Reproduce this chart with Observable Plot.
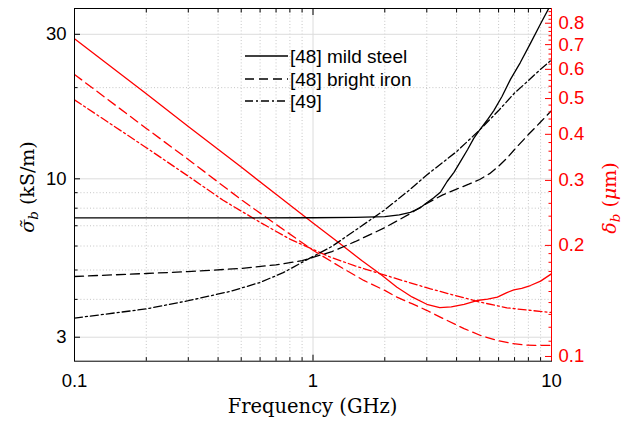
<!DOCTYPE html>
<html><head><meta charset="utf-8">
<script src="https://cdn.jsdelivr.net/npm/d3@7"></script>
<script src="https://cdn.jsdelivr.net/npm/@observablehq/plot@0.6"></script>
<style>body{margin:0;background:#fff}</style>
</head><body><div id="chart"></div>
<script>
// ---- data ----
const freqMild   = [0.1, 0.3, 1, 1.5, 2.0, 2.3, 2.56, 2.8, 3.01, 3.2, 3.43, 3.65, 3.9, 4.15, 4.45, 4.72, 5.0, 5.4, 5.73, 6.2, 6.73, 7.4, 8.16, 9.0, 10];
const sigmaMild  = [7.43, 7.43, 7.44, 7.46, 7.5, 7.6, 7.75, 8.0, 8.35, 8.65, 9.05, 9.8, 10.5, 11.4, 12.5, 13.6, 14.5, 15.7, 16.8, 18.7, 21.3, 24.2, 28, 32.5, 38];
const freqIron   = [0.1, 0.2, 0.3, 0.5, 0.7, 0.9, 1.2, 1.5, 2.0, 2.5, 3.0, 3.5, 4.0, 4.5, 5.0, 5.5, 6.0, 6.5, 7.0, 8.0, 9.0, 10];
const sigmaIron  = [4.76, 4.87, 4.94, 5.06, 5.2, 5.37, 5.75, 6.2, 6.9, 7.6, 8.3, 8.85, 9.25, 9.6, 9.95, 10.4, 11.0, 11.7, 12.5, 14.0, 15.4, 16.8];
const freq49     = [0.1, 0.2, 0.3, 0.45, 0.6, 0.75, 0.9, 1.2, 1.5, 2, 2.5, 3, 4, 5, 6, 7, 8, 9, 10];
const sigma49    = [3.47, 3.72, 3.96, 4.25, 4.55, 4.9, 5.3, 5.98, 6.75, 7.9, 9.1, 10.3, 12.3, 14.5, 16.8, 19.2, 21.1, 23.0, 24.7];

const freqMildD  = [0.1, 0.2, 0.3, 0.5, 0.7, 1, 1.3, 1.6, 1.92, 2.25, 2.6, 3.0, 3.4, 3.8, 4.3, 4.87, 5.4, 5.93, 6.5, 6.95, 7.5, 8.16, 9, 10];
const deltaMild  = [0.726, 0.515, 0.42, 0.326, 0.275, 0.23, 0.202, 0.182, 0.167, 0.154, 0.145, 0.1385, 0.1357, 0.1362, 0.1385, 0.1418, 0.143, 0.1448, 0.149, 0.1516, 0.153, 0.1557, 0.160, 0.1675];
const freqIronD  = [0.1, 0.2, 0.3, 0.5, 0.7, 1, 1.3, 1.633, 2, 2.25, 2.6, 3.01, 3.65, 4.3, 5.04, 5.93, 6.8, 7.63, 8.5, 10];
const deltaIron  = [0.581, 0.415, 0.342, 0.266, 0.228, 0.194, 0.175, 0.1607, 0.151, 0.1448, 0.139, 0.1332, 0.1252, 0.119, 0.114, 0.1105, 0.1085, 0.1075, 0.1072, 0.1072];
const freq49D    = [0.1, 0.2, 0.3, 0.42, 0.6, 0.8, 1.0, 1.18, 1.5, 1.92, 2.5, 3.11, 4, 5.04, 6.5, 8, 10];
const delta49    = [0.496, 0.368, 0.308, 0.265, 0.231, 0.208, 0.195, 0.186, 0.176, 0.1675, 0.159, 0.1525, 0.146, 0.1403, 0.1355, 0.1335, 0.1316];

const seriesNames = ["[48] mild steel", "[48] bright iron", "[49]"];
const dashes = [null, "9,5", "8,3,2,3"];

// ticks
const xLabels = [0.1, 1, 10];
const xMajor = [1];
const xMinor = [0.2,0.3,0.4,0.5,0.6,0.7,0.8,0.9,2,3,4,5,6,7,8,9];
const yMajor = [3, 10, 30];
const yMinor = [4,5,6,7,8,9,20];
const dMajor = [0.1,0.2,0.3,0.4,0.5,0.6,0.7,0.8];
const dMinor = [0.11,0.12,0.13,0.14,0.15,0.16,0.17,0.18,0.19,0.22,0.24,0.26,0.28,0.32,0.34,0.36,0.38,0.42,0.44,0.46,0.48,0.52,0.54,0.56,0.58,0.62,0.64,0.66,0.68,0.72,0.74,0.76,0.78,0.82,0.84,0.86];

// ---- scales ----
const yDom = [2.5, 36.5];
const dDom = [0.0971, 0.877];
const kk = Math.log10(yDom[1]/yDom[0]) / Math.log10(dDom[1]/dDom[0]);
const toL = d => yDom[0] * Math.pow(10, Math.log10(d/dDom[0]) * kk);
const fromL = y => dDom[0] * Math.pow(10, Math.log10(y/yDom[0]) / kk);

const mk = (fs, vs, conv) => fs.map((f, i) => ({f, v: conv ? toL(vs[i]) : vs[i]}));
const black = [mk(freqMild, sigmaMild), mk(freqIron, sigmaIron), mk(freq49, sigma49)];
const red = [mk(freqMildD, deltaMild, true), mk(freqIronD, deltaIron, true), mk(freq49D, delta49, true)];

const LW = 1.3;
const sans = "'Liberation Sans', Arial, Helvetica, sans-serif";
const serif = "'DejaVu Serif', serif";
const minorGrid = {stroke: "#b8b8b8", strokeOpacity: 1, strokeDasharray: "1,2.2", strokeWidth: 0.8};
const majorGrid = {stroke: "#dcdcdc", strokeOpacity: 1, strokeWidth: 1};

const marks = [
  Plot.gridX(xMinor, minorGrid),
  Plot.gridY(yMinor, minorGrid),
  Plot.gridX(xMajor, majorGrid),
  Plot.gridY(yMajor, majorGrid),
];
red.forEach((d, i) => marks.push(Plot.line(d, {x: "f", y: "v", stroke: "#ff0000", strokeWidth: LW, strokeDasharray: dashes[i], clip: true})));
black.forEach((d, i) => marks.push(Plot.line(d, {x: "f", y: "v", stroke: "#000", strokeWidth: LW, strokeDasharray: dashes[i], clip: true})));
marks.push(
  Plot.frame({stroke: "#000", strokeWidth: 1}),
  Plot.ruleX([10], {stroke: "#ff0000", strokeWidth: 1}),
  // tick labels
  Plot.axisX(xLabels, {anchor: "bottom", tickSize: 0, tickPadding: 13, tickFormat: d => String(d), fontSize: 18.5, fontFamily: sans, label: null}),
  Plot.axisY(yMajor, {anchor: "left", tickSize: 0, tickPadding: 8, tickFormat: d => String(d), fontSize: 18.5, fontFamily: sans, label: null}),
  Plot.axisY(dMajor.map(toL), {anchor: "right", tickSize: 0, tickPadding: 7, tickFormat: d => d3.format(".1f")(fromL(d)), fontSize: 18.5, fontFamily: sans, color: "#ff0000", label: null}),
  // inward tick marks
  Plot.axisX(xMajor, {anchor: "bottom", tickSize: -6, fill: "none", label: null}),
  Plot.axisX(xMinor, {anchor: "bottom", tickSize: -3.5, fill: "none", label: null}),
  Plot.axisX(xMajor, {anchor: "top", tickSize: -6, fill: "none", label: null}),
  Plot.axisX(xMinor, {anchor: "top", tickSize: -3.5, fill: "none", label: null}),
  Plot.axisY(yMajor, {anchor: "left", tickSize: -6, fill: "none", label: null}),
  Plot.axisY(yMinor, {anchor: "left", tickSize: -3.5, fill: "none", label: null}),
  Plot.axisY(dMajor.map(toL), {anchor: "right", tickSize: -7, fill: "none", stroke: "#ff0000", label: null}),
  Plot.axisY(dMinor.map(toL), {anchor: "right", tickSize: -3.5, fill: "none", stroke: "#ff0000", label: null})
);

const svg = Plot.plot({
  width: 635, height: 423,
  marginLeft: 74, marginRight: 84, marginTop: 8, marginBottom: 62.3,
  x: {type: "log", domain: [0.1, 10]},
  y: {type: "log", domain: yDom},
  style: {background: "#fff", fontFamily: sans},
  marks
});
document.getElementById("chart").appendChild(svg);

// ---- titles & legend ----
const s = d3.select(svg);
// x title
s.append("text").attr("x", 312.5).attr("y", 413).attr("text-anchor", "middle")
  .attr("font-family", serif).attr("font-size", 19.5).attr("fill", "#000").text("Frequency (GHz)");
// left title
const lt = s.append("text").attr("transform", "translate(34,187) rotate(-90)").attr("text-anchor", "middle")
  .attr("font-family", serif).attr("font-size", 19).attr("fill", "#000");
lt.append("tspan").attr("font-style", "italic").text("σ\u0303");
lt.append("tspan").attr("font-style", "italic").attr("font-size", 13.5).attr("dy", 4).text("b");
lt.append("tspan").attr("dy", -4).text(" (kS/m)");
// right title
const rt = s.append("text").attr("transform", "translate(616,198) rotate(-90)").attr("text-anchor", "middle")
  .attr("font-family", serif).attr("font-size", 19).attr("fill", "#ff0000");
rt.append("tspan").attr("font-style", "italic").text("δ");
rt.append("tspan").attr("font-style", "italic").attr("font-size", 13.5).attr("dy", 4).text("b");
rt.append("tspan").attr("dy", -4).text(" (");
rt.append("tspan").attr("font-style", "italic").text("μ");
rt.append("tspan").text("m)");
// legend
const rows = [56, 79, 101];
seriesNames.forEach((name, i) => {
  s.append("line").attr("x1", 245).attr("x2", 288).attr("y1", rows[i]).attr("y2", rows[i])
    .attr("stroke", "#000").attr("stroke-width", LW).attr("stroke-dasharray", dashes[i]);
  s.append("text").attr("x", 290).attr("y", rows[i]).attr("dy", "0.35em").attr("text-anchor", "start")
    .attr("font-family", sans).attr("font-size", 19).attr("fill", "#000").text(name);
});
</script>
</body></html>
